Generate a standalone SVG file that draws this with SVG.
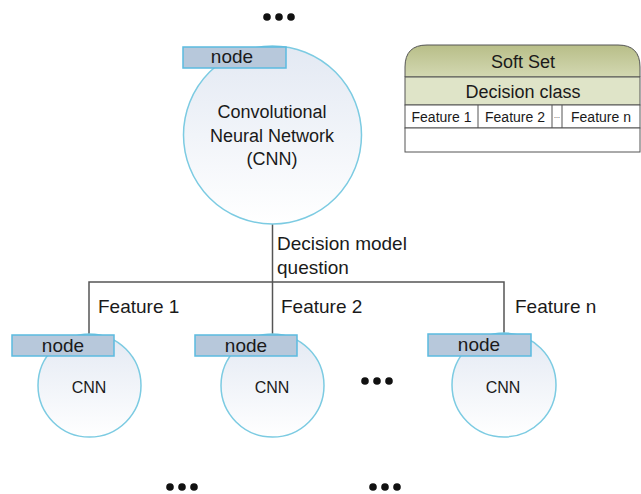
<svg xmlns="http://www.w3.org/2000/svg" width="641" height="494" viewBox="0 0 641 494">
<defs>
<linearGradient id="cg" x1="0" y1="0" x2="0" y2="1">
<stop offset="0" stop-color="#e3e9f3"/>
<stop offset="1" stop-color="#ffffff"/>
</linearGradient>
<linearGradient id="hg" x1="0" y1="0" x2="0" y2="1">
<stop offset="0" stop-color="#b8be88"/>
<stop offset="1" stop-color="#d3d8b2"/>
</linearGradient>
</defs>
<style>
text{font-family:"Liberation Sans",Arial,sans-serif;fill:#1a1a1a}
.circ{fill:url(#cg);stroke:#7ccbe2;stroke-width:1.5}
.lbl{fill:#b7c8db;stroke:#5bbbe0;stroke-width:1.5}
.conn{stroke:#555;stroke-width:1.5;fill:none}
.dot{fill:#111}
.tb{stroke:#555;stroke-width:1;}
</style>
<g id="connectors">
<line class="conn" x1="272.5" y1="223" x2="272.5" y2="335"/>
<polyline class="conn" points="89,335 89,282 504,282 504,335"/>
</g>
<g id="root">
<circle class="circ" cx="272.5" cy="135" r="89"/>
<rect class="lbl" x="183" y="47" width="103" height="21"/>
<text x="232" y="63" font-size="19" text-anchor="middle">node</text>
<text x="272" y="118" font-size="18" text-anchor="middle">Convolutional</text>
<text x="272" y="142" font-size="18" text-anchor="middle">Neural Network</text>
<text x="272" y="165" font-size="18" text-anchor="middle">(CNN)</text>
</g>
<g id="child1">
<circle class="circ" cx="89.5" cy="385.5" r="51.5"/>
<rect class="lbl" x="12" y="335" width="102" height="21"/>
<text x="63" y="352" font-size="19" text-anchor="middle">node</text>
<text x="89" y="393" font-size="16" text-anchor="middle">CNN</text>
</g>
<g id="child2">
<circle class="circ" cx="272.5" cy="385.5" r="51.5"/>
<rect class="lbl" x="195" y="335" width="102" height="21"/>
<text x="246" y="352" font-size="19" text-anchor="middle">node</text>
<text x="272" y="393" font-size="16" text-anchor="middle">CNN</text>
</g>
<g id="child3">
<circle class="circ" cx="504" cy="385" r="52"/>
<rect class="lbl" x="428" y="334" width="103" height="22"/>
<text x="479" y="351" font-size="19" text-anchor="middle">node</text>
<text x="503" y="393" font-size="16" text-anchor="middle">CNN</text>
</g>
<g id="labels">
<text x="277" y="250" font-size="19">Decision model</text>
<text x="277" y="274" font-size="19">question</text>
<text x="98" y="313" font-size="19">Feature 1</text>
<text x="281" y="313" font-size="19">Feature 2</text>
<text x="515" y="313" font-size="19">Feature n</text>
</g>
<g id="dots">
<circle class="dot" cx="267" cy="17" r="3.8"/><circle class="dot" cx="279" cy="17" r="3.8"/><circle class="dot" cx="291" cy="17" r="3.8"/>
<circle class="dot" cx="365" cy="381" r="3.8"/><circle class="dot" cx="377" cy="381" r="3.8"/><circle class="dot" cx="389" cy="381" r="3.8"/>
<circle class="dot" cx="170" cy="487" r="3.8"/><circle class="dot" cx="182" cy="487" r="3.8"/><circle class="dot" cx="194" cy="487" r="3.8"/>
<circle class="dot" cx="373" cy="487" r="3.8"/><circle class="dot" cx="385" cy="487" r="3.8"/><circle class="dot" cx="397" cy="487" r="3.8"/>
</g>
<g id="softset">
<path d="M405,77 L405,67 Q405,45 427,45 L618,45 Q640,45 640,67 L640,77 Z" fill="url(#hg)" class="tb"/>
<rect x="405" y="77" width="235" height="28" fill="#dfe4c8" class="tb"/>
<rect x="405" y="105" width="235" height="23" fill="#ffffff" class="tb"/>
<rect x="405" y="128" width="235" height="24" fill="#ffffff" class="tb"/>
<line class="tb" x1="478" y1="105" x2="478" y2="128"/>
<line class="tb" x1="552" y1="105" x2="552" y2="128"/>
<line class="tb" x1="562" y1="105" x2="562" y2="128"/>
<text x="523" y="68" font-size="18" text-anchor="middle">Soft Set</text>
<text x="523" y="98" font-size="18" text-anchor="middle">Decision class</text>
<text x="441.5" y="122" font-size="14" text-anchor="middle">Feature 1</text>
<text x="515" y="122" font-size="14" text-anchor="middle">Feature 2</text>
<text x="557" y="118" font-size="7" text-anchor="middle">...</text>
<text x="601" y="122" font-size="14" text-anchor="middle">Feature n</text>
</g>
</svg>
